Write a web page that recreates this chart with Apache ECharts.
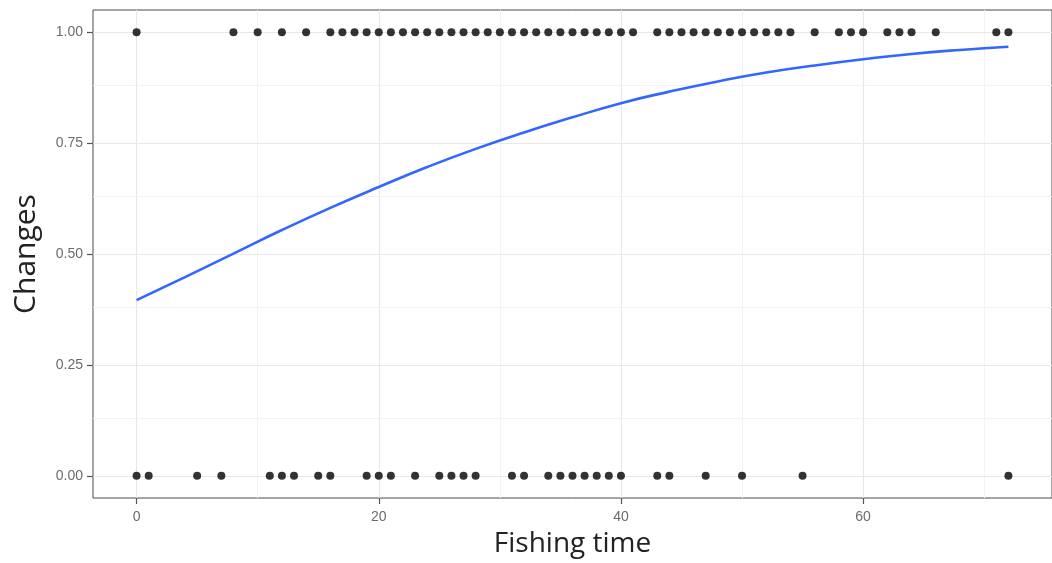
<!DOCTYPE html>
<html>
<head>
<meta charset="utf-8">
<script src="https://cdn.jsdelivr.net/npm/echarts@6/dist/echarts.min.js"></script>
<style>
html,body{margin:0;padding:0;background:#fff;}
#c{width:1052px;height:563px;}
</style>
</head>
<body>
<div id="c"></div>
<script>
// Observed outcomes (Changes = 1)
const onesX = [0, 8, 10, 12, 14, 16, 17, 18, 19, 20, 21, 22, 23, 24, 25, 26, 27, 28, 29, 30,
  31, 32, 33, 34, 35, 36, 37, 38, 39, 40, 41, 43, 44, 45, 46, 47, 48, 49, 50, 51, 52, 53, 54,
  56, 58, 59, 60, 62, 63, 64, 66, 71, 72];
// Observed outcomes (Changes = 0)
const zerosX = [0, 1, 5, 7, 11, 12, 13, 15, 16, 19, 20, 21, 23, 25, 26, 27, 28, 31, 32, 34,
  35, 36, 37, 38, 39, 40, 43, 44, 47, 50, 55, 72];
// Fitted curve
const fitX = [0, 4, 8, 12, 16, 20, 24, 28, 32, 36, 40, 44, 48, 52, 56, 60, 64, 68, 72];
const fitY = [0.396, 0.448, 0.501, 0.554, 0.604, 0.651, 0.696, 0.737, 0.774, 0.808, 0.840,
  0.866, 0.889, 0.909, 0.925, 0.939, 0.951, 0.960, 0.967];
// Axis ticks
const xTicks = [0, 20, 40, 60];
const xMinor = [10, 30, 50, 70];
const yTicks = [0, 0.25, 0.5, 0.75, 1];
const yMinor = [0.125, 0.375, 0.625, 0.875];

const chart = echarts.init(document.getElementById('c'), null, {renderer: 'canvas'});

const gridLines = [];
xTicks.forEach(v => gridLines.push({xAxis: v, lineStyle: {color: '#e8e8e8', width: 1.2, type: 'solid'}}));
xMinor.forEach(v => gridLines.push({xAxis: v, lineStyle: {color: '#f3f3f3', width: 1, type: 'solid'}}));
yTicks.forEach(v => gridLines.push({yAxis: v, lineStyle: {color: '#e8e8e8', width: 1.2, type: 'solid'}}));
yMinor.forEach(v => gridLines.push({yAxis: v, lineStyle: {color: '#f3f3f3', width: 1, type: 'solid'}}));

const tickFont = {fontFamily: 'Liberation Sans, Arial, sans-serif', fontSize: 14, color: '#6b6b6b'};

chart.setOption({
  animation: false,
  backgroundColor: '#fff',
  grid: {left: 93, right: -6, top: 10, bottom: 65, show: true, borderColor: '#4a4a4a', borderWidth: 1, backgroundColor: 'transparent'},
  xAxis: {
    type: 'value', min: -3.6, max: 75.6,
    name: 'Fishing time', nameLocation: 'middle', nameGap: 32,
    nameTextStyle: {fontFamily: 'Open Sans, sans-serif', fontSize: 28, color: '#222'},
    axisLine: {show: false, onZero: false},
    axisTick: {show: true, length: 6, lineStyle: {color: '#555', width: 1.2}, customValues: xTicks},
    axisLabel: Object.assign({margin: 12, customValues: xTicks, formatter: v => String(v)}, tickFont),
    splitLine: {show: false}
  },
  yAxis: {
    type: 'value', min: -0.05, max: 1.05,
    name: 'Changes', nameLocation: 'middle', nameGap: 52,
    nameTextStyle: {fontFamily: 'Open Sans, sans-serif', fontSize: 30, color: '#222'},
    axisLine: {show: false, onZero: false},
    axisTick: {show: true, length: 6, lineStyle: {color: '#555', width: 1.2}, customValues: yTicks},
    axisLabel: Object.assign({margin: 10, customValues: yTicks, formatter: v => v.toFixed(2)}, tickFont),
    splitLine: {show: false}
  },
  series: [
    {
      type: 'line', z: 2, smooth: true, showSymbol: false, symbol: 'none',
      data: fitX.map((x, i) => [x, fitY[i]]),
      lineStyle: {color: '#3366FF', width: 2.6},
      markLine: {silent: true, symbol: 'none', z: 1, label: {show: false}, data: gridLines, animation: false}
    },
    {
      type: 'scatter', z: 3, symbolSize: 8,
      data: onesX.map(x => [x, 1]),
      itemStyle: {color: '#000'}
    },
    {
      type: 'scatter', z: 3, symbolSize: 8,
      data: zerosX.map(x => [x, 0]),
      itemStyle: {color: '#000'}
    }
  ]
});
</script>
</body>
</html>
